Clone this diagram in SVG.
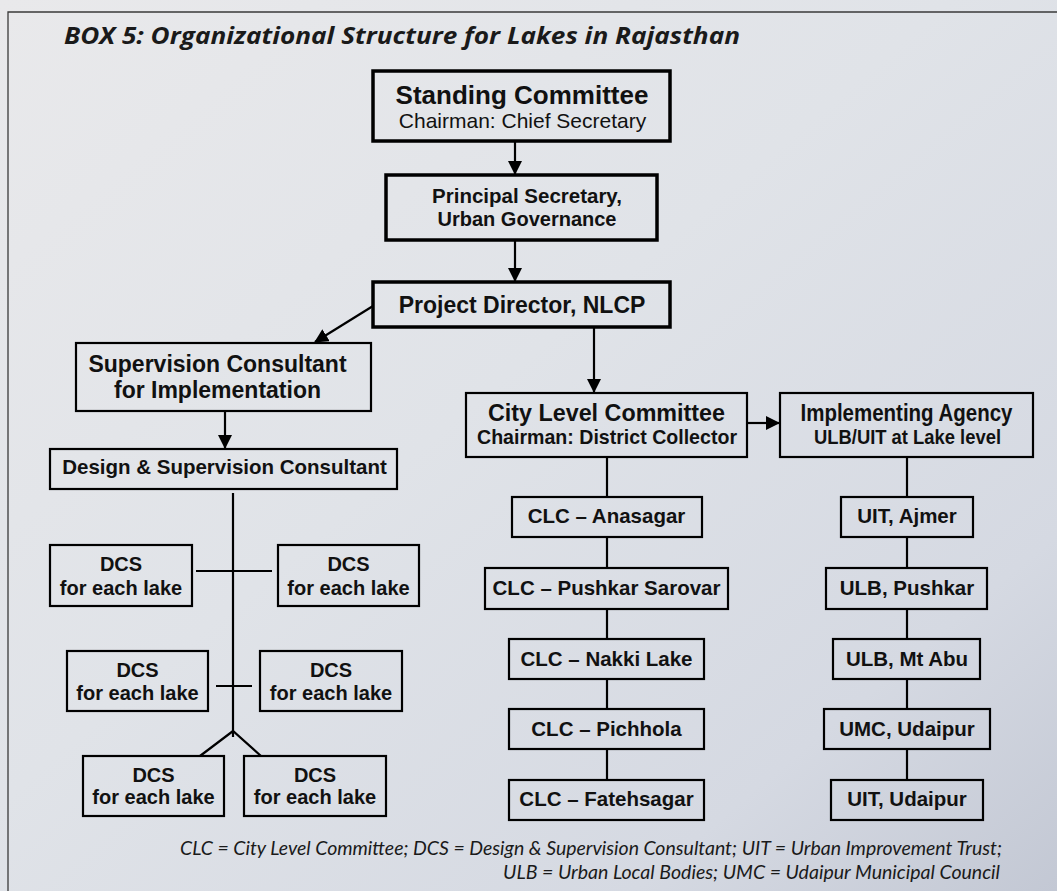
<svg xmlns="http://www.w3.org/2000/svg" width="1057" height="891" viewBox="0 0 1057 891">
<defs>
<linearGradient id="bg" x1="0" y1="0" x2="1" y2="1">
<stop offset="0" stop-color="#e9e9eb"/>
<stop offset="0.45" stop-color="#e0e3e8"/>
<stop offset="0.8" stop-color="#d5d9e2"/>
<stop offset="1" stop-color="#c3c8d4"/>
</linearGradient>
<marker id="arr" viewBox="0 0 14 14" refX="13" refY="7" markerWidth="14" markerHeight="14" markerUnits="userSpaceOnUse" orient="auto">
<path d="M0,0 L14,7 L0,14 z" fill="#000"/>
</marker>
<style>
.box{fill:none;stroke:#000;stroke-width:2.2}
.thick{fill:none;stroke:#000;stroke-width:3.5}
.t{font-family:"Liberation Sans",Arial,sans-serif;font-weight:bold;fill:#111;text-anchor:middle}
.r{font-family:"Liberation Sans",Arial,sans-serif;fill:#111;text-anchor:middle}
.c line,.c path{stroke:#000;stroke-width:2.2;fill:none}
.a{marker-end:url(#arr)}
.title{font-family:"Open Sans","DejaVu Sans",sans-serif;font-weight:bold;font-style:italic;fill:#1a1a1a}
.foot{font-family:Lato,"Open Sans",sans-serif;font-style:italic;fill:#1a1a1a}
</style>
</defs>
<rect x="0" y="0" width="1057" height="891" fill="url(#bg)"/>
<path d="M1057,12 H8 V891" fill="none" stroke="#3a3a3a" stroke-width="1.3"/>
<text class="title" x="64" y="44" font-size="24" textLength="676" lengthAdjust="spacingAndGlyphs">BOX 5: Organizational Structure for Lakes in Rajasthan</text>

<g id="connectors" class="c">
<line class="a" x1="515" y1="142" x2="515" y2="174"/>
<line class="a" x1="515" y1="241" x2="515" y2="281"/>
<line class="a" x1="373" y1="306" x2="315" y2="342"/>
<line class="a" x1="594" y1="328" x2="594" y2="392"/>
<line class="a" x1="225" y1="412" x2="225" y2="448"/>
<line class="a" x1="748" y1="423" x2="779" y2="423"/>
<line x1="233" y1="493" x2="233" y2="737"/>
<line x1="196" y1="571" x2="272" y2="571"/>
<line x1="216" y1="686" x2="252" y2="686"/>
<path d="M200,756 L233,731 L261,756"/>
<line x1="607" y1="457" x2="607" y2="497"/>
<line x1="607" y1="537" x2="607" y2="568"/>
<line x1="607" y1="609" x2="607" y2="639"/>
<line x1="607" y1="679" x2="607" y2="709"/>
<line x1="607" y1="749" x2="607" y2="780"/>
<line x1="907" y1="457" x2="907" y2="497"/>
<line x1="907" y1="537" x2="907" y2="568"/>
<line x1="907" y1="609" x2="907" y2="639"/>
<line x1="907" y1="679" x2="907" y2="709"/>
<line x1="907" y1="749" x2="907" y2="780"/>
</g>

<g id="standing-committee">
<rect class="thick" x="373" y="71" width="297" height="70"/>
<text class="t" x="522" y="104" font-size="26">Standing Committee</text>
<text class="r" x="522.5" y="128" font-size="21">Chairman: Chief Secretary</text>
</g>
<g id="principal-secretary">
<rect class="thick" x="386" y="175" width="271" height="65"/>
<text class="t" x="527" y="203" font-size="20.5">Principal Secretary,</text>
<text class="t" x="527" y="226" font-size="20">Urban Governance</text>
</g>
<g id="project-director">
<rect class="thick" x="373" y="282" width="297" height="45"/>
<text class="t" x="522" y="313" font-size="23">Project Director, NLCP</text>
</g>
<g id="supervision-consultant">
<rect class="box" x="76" y="343" width="295" height="68"/>
<text class="t" x="217.5" y="372" font-size="23">Supervision Consultant</text>
<text class="t" x="217.5" y="398" font-size="23">for Implementation</text>
</g>
<g id="design-supervision">
<rect class="box" x="50" y="449" width="347" height="40"/>
<text class="t" x="224.5" y="474" font-size="20.5">Design &amp; Supervision Consultant</text>
</g>
<g id="dcs-1">
<rect class="box" x="50" y="545" width="142" height="61"/>
<text class="t" x="121" y="571" font-size="20">DCS</text>
<text class="t" x="121" y="595" font-size="20">for each lake</text>
</g>
<g id="dcs-2">
<rect class="box" x="278" y="545" width="141" height="61"/>
<text class="t" x="348.5" y="571" font-size="20">DCS</text>
<text class="t" x="348.5" y="595" font-size="20">for each lake</text>
</g>
<g id="dcs-3">
<rect class="box" x="67" y="651" width="141" height="60"/>
<text class="t" x="137.5" y="677" font-size="20">DCS</text>
<text class="t" x="137.5" y="700" font-size="20">for each lake</text>
</g>
<g id="dcs-4">
<rect class="box" x="260" y="651" width="142" height="60"/>
<text class="t" x="331" y="677" font-size="20">DCS</text>
<text class="t" x="331" y="700" font-size="20">for each lake</text>
</g>
<g id="dcs-5">
<rect class="box" x="83" y="756" width="141" height="60"/>
<text class="t" x="153.5" y="782" font-size="20">DCS</text>
<text class="t" x="153.5" y="804" font-size="20">for each lake</text>
</g>
<g id="dcs-6">
<rect class="box" x="244" y="756" width="142" height="60"/>
<text class="t" x="315" y="782" font-size="20">DCS</text>
<text class="t" x="315" y="804" font-size="20">for each lake</text>
</g>
<g id="city-level-committee">
<rect class="box" x="466" y="393" width="281" height="64"/>
<text class="t" x="606.5" y="421" font-size="24" textLength="237" lengthAdjust="spacingAndGlyphs">City Level Committee</text>
<text class="t" x="607" y="444" font-size="21" textLength="260" lengthAdjust="spacingAndGlyphs">Chairman: District Collector</text>
</g>
<g id="implementing-agency">
<rect class="box" x="780" y="393" width="253" height="64"/>
<text class="t" x="906.5" y="421" font-size="24" textLength="212" lengthAdjust="spacingAndGlyphs">Implementing Agency</text>
<text class="t" x="907.5" y="444" font-size="21" textLength="187" lengthAdjust="spacingAndGlyphs">ULB/UIT at Lake level</text>
</g>
<g id="clc-anasagar">
<rect class="box" x="512" y="497" width="190" height="40"/>
<text class="t" x="606.5" y="523" font-size="20.5">CLC – Anasagar</text>
</g>
<g id="clc-pushkar">
<rect class="box" x="485" y="568" width="243" height="41"/>
<text class="t" x="606.5" y="595" font-size="20.5">CLC – Pushkar Sarovar</text>
</g>
<g id="clc-nakki">
<rect class="box" x="509" y="639" width="195" height="40"/>
<text class="t" x="606.5" y="666" font-size="20.5">CLC – Nakki Lake</text>
</g>
<g id="clc-pichhola">
<rect class="box" x="509" y="709" width="195" height="40"/>
<text class="t" x="606.5" y="736" font-size="20.5">CLC – Pichhola</text>
</g>
<g id="clc-fatehsagar">
<rect class="box" x="509" y="780" width="195" height="40"/>
<text class="t" x="606.5" y="806" font-size="20.5">CLC – Fatehsagar</text>
</g>
<g id="uit-ajmer">
<rect class="box" x="841" y="497" width="132" height="40"/>
<text class="t" x="907" y="523" font-size="20.5">UIT, Ajmer</text>
</g>
<g id="ulb-pushkar">
<rect class="box" x="826" y="568" width="161" height="41"/>
<text class="t" x="907" y="595" font-size="20.5">ULB, Pushkar</text>
</g>
<g id="ulb-mtabu">
<rect class="box" x="833" y="639" width="147" height="40"/>
<text class="t" x="907" y="666" font-size="20.5">ULB, Mt Abu</text>
</g>
<g id="umc-udaipur">
<rect class="box" x="824" y="709" width="166" height="40"/>
<text class="t" x="907" y="736" font-size="20.5">UMC, Udaipur</text>
</g>
<g id="uit-udaipur">
<rect class="box" x="831" y="780" width="152" height="40"/>
<text class="t" x="907" y="806" font-size="20.5">UIT, Udaipur</text>
</g>

<text class="foot" x="180" y="855" font-size="19" textLength="822" lengthAdjust="spacingAndGlyphs">CLC = City Level Committee; DCS = Design &amp; Supervision Consultant; UIT = Urban Improvement Trust;</text>
<text class="foot" x="503" y="879" font-size="19" textLength="497" lengthAdjust="spacingAndGlyphs">ULB = Urban Local Bodies; UMC = Udaipur Municipal Council</text>
</svg>
